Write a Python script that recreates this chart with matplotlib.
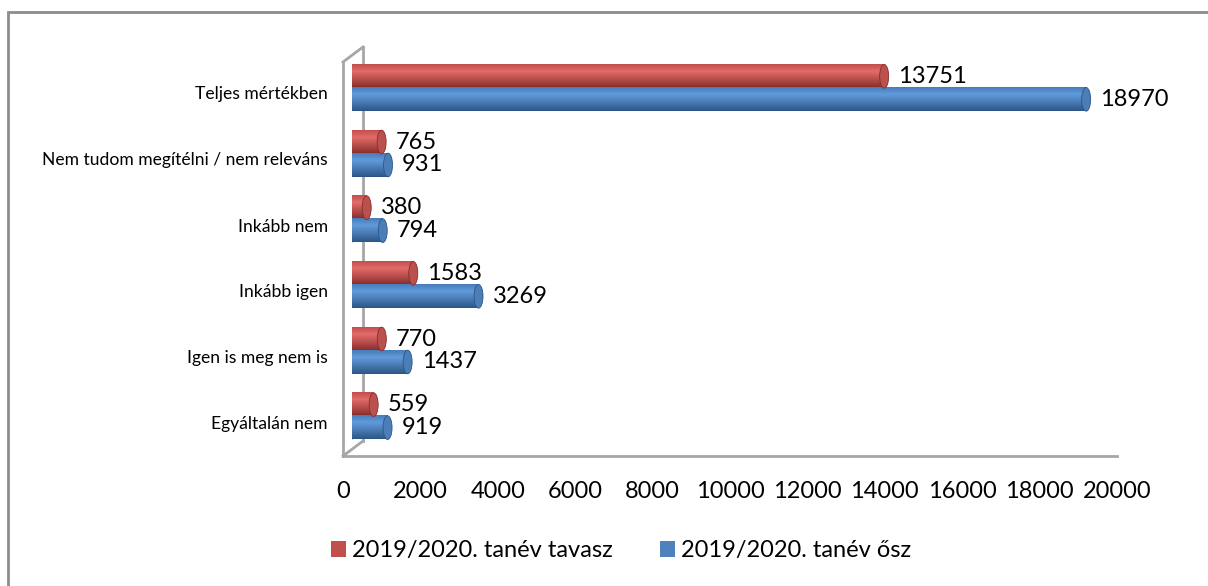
import matplotlib
matplotlib.use('Agg')
import matplotlib.pyplot as plt
import numpy as np
from matplotlib.patches import Ellipse, Rectangle, Patch
from matplotlib.lines import Line2D
from matplotlib.colors import to_rgb

# adatok (alulról felfelé)
categories = ['Egyáltalán nem', 'Igen is meg nem is', 'Inkább igen', 'Inkább nem',
              'Nem tudom megítélni / nem releváns', 'Teljes mértékben']
spring = [559, 770, 1583, 380, 765, 13751]
autumn = [919, 1437, 3269, 794, 931, 18970]
series_names = ['2019/2020. tanév tavasz', '2019/2020. tanév ősz']
xticks = list(range(0, 20001, 2000))

W, H = 1208, 586
plt.rcParams['font.family'] = ['Lato', 'DejaVu Sans']

fig = plt.figure(figsize=(W / 100, H / 100), dpi=100)


def box(x0, y0, x1, y1):
    # pixel doboz (bal felső sarok origó) -> figure arányok
    return [x0 / W, 1 - y1 / H, (x1 - x0) / W, (y1 - y0) / H]


def fx(x):
    return x / W


def fy(y):
    return 1 - y / H


GRID = '#a6a6a6'
RED = ['#c44e4b', '#e26c69', '#862c2a']
BLUE = ['#497cba', '#619bdb', '#2d5686']

# elülső sík: feliratok, padló
front = fig.add_axes(box(343, 60, 1117, 456))
front.set_xlim(0, 20000)
front.set_ylim(-0.5, len(categories) - 0.5)
for s in front.spines.values():
    s.set_visible(False)
front.set_xticks(xticks)
front.set_xticklabels([str(t) for t in xticks], fontsize=17)
front.tick_params(axis='x', length=0, pad=18)
front.set_yticks(range(len(categories)))
front.set_yticklabels(categories, fontsize=12.6)
front.tick_params(axis='y', length=0, pad=11)
front.patch.set_alpha(0)

# térbeli keret vonalai
dep = (20, -15)
fig.add_artist(Line2D([fx(343), fx(1117)], [fy(456), fy(456)], color=GRID, lw=2))
fig.add_artist(Line2D([fx(343), fx(343)], [fy(456), fy(62)], color=GRID, lw=2))
fig.add_artist(Line2D([fx(343), fx(343 + dep[0])], [fy(62), fy(62 + dep[1])], color=GRID, lw=2))
fig.add_artist(Line2D([fx(343), fx(343 + dep[0])], [fy(456), fy(456 + dep[1])], color=GRID, lw=2))
fig.add_artist(Line2D([fx(343 + dep[0]), fx(343 + dep[0])],
                      [fy(62 + dep[1]), fy(456 + dep[1])], color=GRID, lw=2, zorder=-1))

# oszlopok: fél mélységben
ax = fig.add_axes(box(352, 55, 1126, 449))
ax.axis('off')
ax.patch.set_alpha(0)

h = 0.36
off = 0.175
cap_w = 9 * 20000 / 774


def shade(cols, t):
    c0, c1, c2 = [np.array(to_rgb(c)) for c in cols]
    if t < 0.3:
        return c0 + (c1 - c0) * t / 0.3
    return c1 + (c2 - c1) * (t - 0.3) / 0.7


def cylinder(y, v, cols):
    ts = np.linspace(0, 1, 40)
    grad = np.array([shade(cols, t) for t in ts])[:, None, :]
    ax.add_patch(Ellipse((0, y), cap_w, h, facecolor=shade(cols, 0.5), edgecolor='none', zorder=2))
    ax.imshow(grad, extent=[0, v, y - h / 2, y + h / 2], aspect='auto',
              interpolation='bilinear', origin='upper', zorder=3)
    ax.add_patch(Ellipse((v, y), cap_w, h, facecolor=shade(cols, 0.6),
                         edgecolor=shade(cols, 1.0), lw=0.6, zorder=4))


ys = np.arange(len(categories))
for i in ys:
    cylinder(i + off, spring[i], RED)
    cylinder(i - off, autumn[i], BLUE)
    ax.annotate(str(spring[i]), (spring[i], i + off), xytext=(14, 0),
                textcoords='offset pixels', ha='left', va='center', fontsize=17)
    ax.annotate(str(autumn[i]), (autumn[i], i - off), xytext=(14, 0),
                textcoords='offset pixels', ha='left', va='center', fontsize=17)

ax.set_xlim(0, 20000)
ax.set_ylim(-0.5, len(categories) - 0.5)

# külső keret
fig.add_artist(Rectangle((fx(8), fy(600)), fx(1220) - fx(8), fy(12) - fy(600),
                         fill=False, edgecolor='#8c8c8c', lw=2, transform=fig.transFigure))

handles = [Patch(facecolor='#c0504d'), Patch(facecolor='#4f81bd')]
fig.legend(handles, series_names, loc='center', bbox_to_anchor=(fx(621), fy(551)),
           ncol=2, frameon=False, fontsize=17, handlelength=0.65, handleheight=0.65,
           handletextpad=0.25, columnspacing=2.0)

fig.savefig('out.png', dpi=100)
